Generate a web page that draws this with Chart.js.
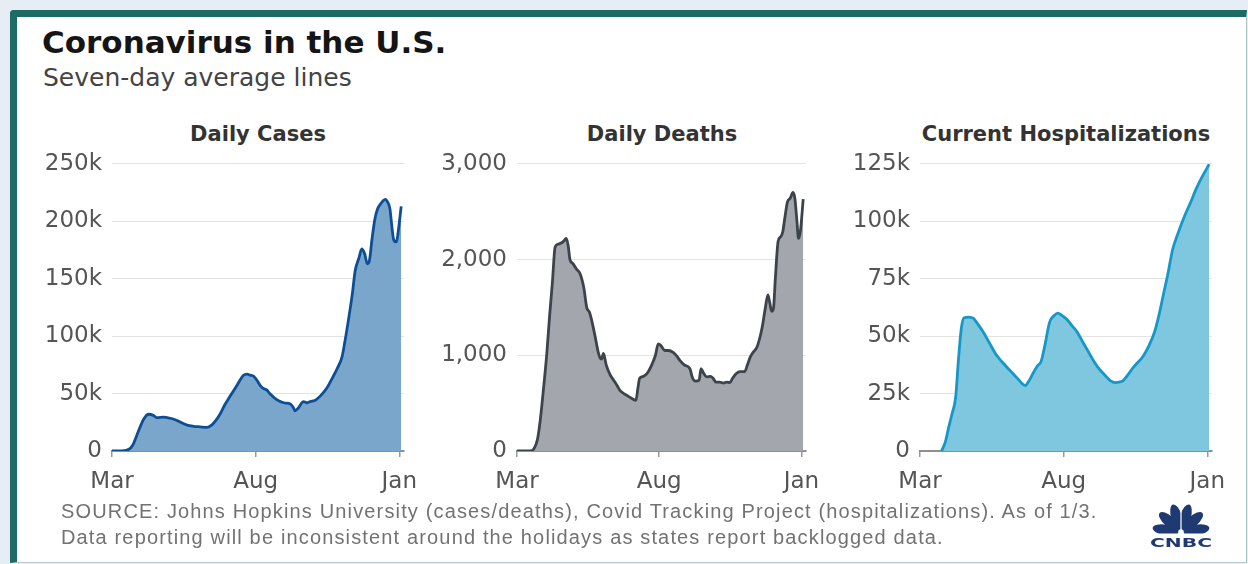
<!DOCTYPE html>
<html><head><meta charset="utf-8">
<script src="https://cdn.jsdelivr.net/npm/chart.js@4.4.1/dist/chart.umd.min.js"></script>
<style>
html,body{margin:0;padding:0}
body{width:1248px;height:564px;overflow:hidden;background:#e6edf5;position:relative;font-family:"DejaVu Sans",sans-serif}
#card{position:absolute;left:10px;top:10px;width:1237px;height:553px;box-sizing:border-box;background:#fff;border-left:7px solid #1c6b64;border-top:7px solid #1c6b64;border-right:1px solid #a9c3c5;border-bottom:1px solid #b9c9cd;border-top-left-radius:4px}
.t{position:absolute;white-space:nowrap;line-height:1}
#title{left:42px;top:27px;font-size:31px;font-weight:bold;color:#151515}
#sub{left:43px;top:65px;font-size:25px;color:#444}
.ct{position:absolute;width:320px;text-align:center;top:124px;font-size:21px;font-weight:bold;color:#333;line-height:1;white-space:nowrap}
canvas{position:absolute}
#src{position:absolute;left:61px;top:498px;font-family:"Liberation Sans",Arial,sans-serif;font-size:20px;letter-spacing:1.15px;color:#727272;line-height:26px;white-space:nowrap}
#logo{position:absolute;left:1148px;top:502px}
</style></head>
<body>
<div id="card"></div>
<div class="t" id="title">Coronavirus in the U.S.</div>
<div class="t" id="sub">Seven-day average lines</div>
<div class="ct" style="left:98px">Daily Cases</div>
<div class="ct" style="left:502px">Daily Deaths</div>
<div class="ct" style="left:906px">Current Hospitalizations</div>
<canvas id="c1" width="392" height="366" style="left:32px;top:140px"></canvas>
<canvas id="c2" width="389" height="366" style="left:437px;top:140px"></canvas>
<canvas id="c3" width="392" height="366" style="left:840px;top:140px"></canvas>
<div id="src">SOURCE: Johns Hopkins University (cases/deaths), Covid Tracking Project (hospitalizations). As of 1/3.<br>Data reporting will be inconsistent around the holidays as states report backlogged data.</div>
<svg id="logo" width="68" height="47" viewBox="0 0 68 47">
  <g fill="#1f3a72">
    <ellipse cx="17.5" cy="28" rx="5.4" ry="13" transform="rotate(-80 17.5 28)"/>
    <ellipse cx="21.3" cy="19.6" rx="5.4" ry="13" transform="rotate(-48 21.3 19.6)"/>
    <ellipse cx="28.5" cy="15" rx="5.4" ry="13" transform="rotate(-16 28.5 15)"/>
    <ellipse cx="37.5" cy="15" rx="5.4" ry="13" transform="rotate(16 37.5 15)"/>
    <ellipse cx="44.7" cy="19.6" rx="5.4" ry="13" transform="rotate(48 44.7 19.6)"/>
    <ellipse cx="48.5" cy="28" rx="5.4" ry="13" transform="rotate(80 48.5 28)"/>
  </g>
  <path d="M33 8 L33 31" stroke="#fff" stroke-width="1.2"/>
  <rect x="0" y="31.5" width="68" height="3.5" fill="#fff"/>
  <text x="2" y="45" font-family="DejaVu Sans" font-weight="bold" font-size="12" fill="#1f3a72" textLength="62" lengthAdjust="spacingAndGlyphs">CNBC</text>
</svg>
<script>
// x values are days since Mar 1, 2020
const tickDays = [0, 153, 306];
const tickLabels = ['Mar', 'Aug', 'Jan'];

const casesDays = [0,10,18,22,28,34,39,44,48,55,62,68,73,80,87,94,101,106,110,115,120,126,133,140,144,147,151,154,158,161,165,168,175,183,190,193,195,198,204,208,211,216,222,229,235,240,245,248,252,256,259,263,266,269,272,274,277,280,283,286,289,291,294,296,298,300,303,305,308];
const casesValues = [0,100,1500,5000,17000,28000,32000,31000,29000,29500,28500,27000,25000,22500,21500,21000,20500,22500,26000,32000,40000,48000,57000,66000,67000,66000,65000,62000,57000,54500,53000,50000,45000,42000,41000,38000,35000,37000,43000,42000,43000,44000,48000,55000,64000,72000,82000,95000,115000,137000,157000,168000,176000,172000,163000,165000,185000,202000,211000,215000,218000,219000,216000,211000,196000,184000,182000,192000,213000];

const deathsDays = [0,14,18,22,25,28,32,35,38,41,44,47,50,53,55,57,60,64,68,72,75,78,80,84,87,89,91,93,96,100,104,108,111,115,120,125,128,130,132,136,140,145,149,152,155,159,163,168,172,175,180,186,189,192,196,198,201,204,208,211,214,218,222,226,229,232,236,240,245,248,251,254,258,261,264,267,270,272,274,276,278,281,284,286,288,291,294,297,299,301,303,305,308];
const deathsValues = [0,0,20,120,320,600,1010,1400,1750,2130,2160,2170,2190,2220,2150,2000,1960,1900,1850,1700,1500,1450,1380,1200,1050,980,960,1020,900,800,740,680,630,600,570,540,530,650,760,780,810,900,1000,1120,1100,1050,1050,1030,990,950,900,860,760,730,740,860,810,775,780,760,720,720,710,720,715,760,810,830,830,900,980,1030,1080,1170,1300,1480,1630,1550,1460,1490,1800,2190,2240,2290,2420,2600,2640,2700,2640,2430,2220,2300,2630];

const hospDays = [23,27,30,34,38,41,44,47,52,57,62,67,74,81,88,96,104,112,116,120,125,129,133,138,143,147,151,156,162,167,174,181,186,191,197,203,208,212,216,222,227,233,238,244,250,255,259,264,269,275,282,288,294,300,308];
const hospValues = [0,4000,9300,16000,23500,40000,53400,58000,58300,57700,55000,52000,47000,42000,38500,35000,31500,28500,30500,33500,37000,39000,46000,56000,59000,60000,59000,57500,54500,52000,47000,42000,38500,35600,33000,30500,29800,30000,30500,33500,36300,39000,41500,46000,52000,60000,67700,77000,87600,95000,102500,108000,114000,119000,124800];

const casesTicks = [0, 50000, 100000, 150000, 200000, 250000];
const deathsTicks = [0, 1000, 2000, 3000];
const hospTicks = [0, 25000, 50000, 75000, 100000, 125000];

function kFmt(v){ return v === 0 ? '0' : (v/1000) + 'k'; }
function commaFmt(v){ return v.toLocaleString('en-US'); }

function makeChart(id, days, values, yTicks, fmt, fill, line){
  const pts = days.map((d,i)=>({x:d, y:values[i]}));
  return new Chart(document.getElementById(id), {
    type: 'line',
    data: { datasets: [{ data: pts, fill: 'origin', backgroundColor: fill, borderColor: line,
      borderWidth: 2.8, pointRadius: 0, cubicInterpolationMode: 'monotone', borderJoinStyle: 'round' }] },
    options: {
      responsive: false, animation: false, devicePixelRatio: 1,
      layout: { autoPadding: false, padding: { top: 19.5, right: 20, left: 0, bottom: 0 } },
      plugins: { legend: { display: false }, tooltip: { enabled: false } },
      scales: {
        x: {
          type: 'linear', min: 0, max: 311,
          afterBuildTicks: s => { s.ticks = tickDays.map(v => ({ value: v })); },
          afterFit: s => { s.height = 55; },
          ticks: { callback: v => tickLabels[tickDays.indexOf(v)] || '', color: '#555',
            font: { family: 'DejaVu Sans', size: 23, lineHeight: 1.72 }, padding: 5, maxRotation: 0, autoSkip: false },
          grid: { display: true, drawOnChartArea: false, drawTicks: true, tickLength: 6, color: '#999', lineWidth: 1.5 },
          border: { display: true, color: '#8e8e8e', width: 2 }
        },
        y: {
          min: 0, max: yTicks[yTicks.length-1],
          afterBuildTicks: s => { s.ticks = yTicks.map(v => ({ value: v })); },
          afterFit: s => { s.width = 80; },
          ticks: { callback: fmt, color: '#555', font: { family: 'DejaVu Sans', size: 23 }, padding: 10 },
          grid: { color: '#e3e3e3', lineWidth: 1, drawTicks: false },
          border: { display: false }
        }
      }
    }
  });
}

makeChart('c1', casesDays, casesValues, casesTicks, kFmt, '#7aa6cb', '#0c4f94');
makeChart('c2', deathsDays, deathsValues, deathsTicks, commaFmt, '#a3a6ad', '#3c434b');
makeChart('c3', hospDays, hospValues, hospTicks, kFmt, '#7fc7df', '#1597c8');
</script>
</body></html>
